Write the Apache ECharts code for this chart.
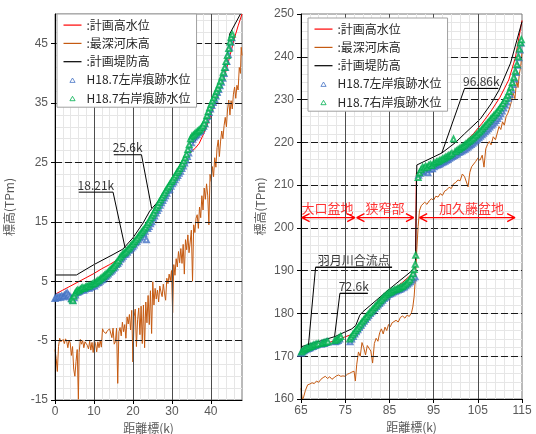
<!DOCTYPE html>
<html><head><meta charset="utf-8">
<script src="https://cdn.jsdelivr.net/npm/echarts@6/dist/echarts.min.js"></script>
<style>html,body{margin:0;padding:0;background:#fff}#c{width:536px;height:434px}</style>
</head><body><div id="c"></div>
<script>
// ---------- names ----------
const seriesNames = [':計画高水位', ':最深河床高', ':計画堤防高', 'H18.7左岸痕跡水位', 'H18.7右岸痕跡水位'];
const xAxisTitle = '距離標(k)';
const yAxisTitle = '標高(TPm)';

// ---------- left chart (0 - 48 k) ----------
const leftHWL = [[0,2.8],[2,3.5],[4,4.2],[6,4.9],[8,5.6],[10,6.3],[12,7.1],[14,7.8],[16,8.6],[18,9.7],[20,10.9],[22,12.6],[24,14.6],[26,16.6],[28,18.7],[30,20.8],[32,23.0],[33.7,25.2],[34.5,26.5],[35.3,27.0],[36,27.4],[37,28.2],[38,29.6],[39,31.2],[40,33.0],[41,34.8],[42,36.5],[43,38.5],[44,40.7],[45,43.2],[46,45.8],[47,48.0],[48,50]];
const leftLevee = [[0,6.05],[5.5,6.05],[10,7.8],[14.9,9.5],[17.4,10.4],[20,12.3],[22.6,14.8],[24.3,16.8],[26.8,18.7],[27.7,19.8],[30,22.2],[32.4,24.8],[33.7,26.2],[34.5,27.7],[35.4,28.3],[36,28.6],[37,29.8],[38,31.2],[39,32.7],[40,34.3],[41,36.0],[42,37.8],[43,39.8],[44,42.3],[44.6,44.6],[44.8,46.6],[47.6,50]];
const leftBed = [[0,-6.5],[0.3,-8.0],[0.6,-10.2],[0.9,-6],[1.2,-4.6],[1.5,-5.2],[1.8,-5.5],[2.1,-4.8],[2.4,-5.5],[2.7,-4.7],[3.0,-5.1],[3.3,-6.2],[3.6,-4.9],[3.9,-5.4],[4.2,-7.5],[4.5,-6.0],[4.8,-9.8],[5.1,-11],[5.4,-8.5],[5.7,-6.5],[6.0,-14.9],[6.2,-7.0],[6.5,-4.8],[6.8,-5.6],[7.1,-5.0],[7.4,-6.2],[7.7,-5.2],[8.0,-4.9],[8.3,-5.8],[8.6,-6.4],[8.9,-5.1],[9.2,-6.6],[9.5,-5.3],[9.8,-7.0],[10.1,-5.0],[10.4,-5.5],[10.7,-6.9],[11.0,-5.2],[11.3,-6.2],[11.6,-5.0],[11.9,-6.1],[12.2,-3.0],[12.5,-3.5],[12.8,-3.2],[13.1,-3.8],[13.4,-3.4],[13.7,-3.6],[14.0,-3.0],[14.3,-3.3],[14.6,-4.5],[14.9,-2.9],[15.2,-5.6],[15.5,-5.2],[15.8,-2.9],[16.1,-12.2],[16.4,-3.5],[16.7,-2.8],[17.0,-4.2],[17.3,-1.9],[17.6,-3.5],[17.9,-2.3],[18.2,-4.6],[18.5,-1.0],[18.8,-2.2],[19.1,-0.6],[19.4,-3.2],[19.7,0.1],[20.0,-8.6],[20.3,-1.0],[20.6,0.3],[20.9,-6.0],[21.2,-1.5],[21.5,0.5],[21.8,-4.0],[22.1,0.8],[22.4,-5.5],[22.7,1.0],[23.0,-6.2],[23.3,1.5],[23.6,-2.0],[23.9,2.6],[24.2,-2.3],[24.5,3.4],[24.8,-3.8],[25.1,4.9],[25.4,1.0],[25.7,3.8],[26.0,2.0],[26.3,3.5],[26.6,1.5],[26.9,4.2],[27.2,3.2],[27.5,2.4],[27.8,4.5],[28.1,3.0],[28.4,1.8],[28.7,5.5],[29.0,4.6],[29.3,6.2],[29.6,5.1],[29.9,6.8],[30.2,-0.3],[30.5,7.8],[30.8,6.0],[31.1,8.8],[31.4,7.4],[31.7,10.0],[32.0,8.1],[32.3,10.5],[32.6,8.0],[32.9,11.2],[33.2,6.2],[33.5,12.0],[33.8,10.3],[34.1,12.8],[34.4,9.8],[34.7,11.6],[35.0,13.6],[35.3,5.0],[35.6,14.5],[35.9,13.2],[36.2,15.6],[36.5,16.2],[36.8,13.9],[37.1,17.5],[37.4,15.7],[37.7,19.4],[38.0,17.0],[38.3,20.7],[38.6,18.8],[38.9,21.4],[39.2,19.5],[39.5,14.5],[39.8,23.0],[40.1,21.8],[40.4,24.3],[40.7,22.6],[41.0,25.8],[41.3,24.2],[41.6,27.5],[41.9,28.8],[42.2,26.0],[42.5,28.6],[42.8,30.3],[43.1,29.0],[43.4,31.2],[43.7,32.6],[44.0,31.0],[44.3,34.0],[44.6,35.5],[44.9,33.0],[45.2,35.4],[45.5,34.0],[45.8,36.5],[46.1,37.7],[46.4,35.8],[46.7,38.0],[47.0,37.2],[47.3,41.0],[47.6,40.0],[47.8,44.4],[48,43]];
const leftLeftBank = [[0,2.1],[0.35,2.3],[0.7,2.2],[1.05,2.4],[1.4,2.3],[1.75,2.5],[2.1,2.4],[2.45,2.6],[2.8,2.9],[3.15,3.0],[3.5,2.7],[3.85,2.4],[4.2,2.1],[4.55,1.8],[4.9,2.2],[5.25,2.7],[5.6,3.1],[5.95,3.2],[6.3,3.3],[6.65,3.5],[7.0,3.6],[7.35,3.5],[7.7,3.7],[8.05,3.8],[8.4,3.9],[8.75,3.8],[9.1,4.0],[9.45,4.1],[9.8,4.3],[10.15,4.2],[10.5,4.5],[10.85,4.7],[11.2,4.8],[11.55,5.0],[11.9,5.2],[12.25,5.3],[12.6,5.6],[12.95,5.8],[13.3,6.0],[13.65,6.2],[14.0,6.5],[14.35,6.7],[14.7,6.9],[15.05,7.2],[15.4,7.4],[15.75,7.8],[16.1,8.0],[16.45,8.3],[16.8,8.7],[17.15,8.9],[17.5,9.2],[17.85,9.5],[18.2,9.6],[18.55,9.9],[18.9,10.2],[19.25,10.3],[19.6,10.6],[19.95,10.8],[20.3,11.1],[20.65,11.5],[21.0,11.7],[21.35,12.0],[21.7,12.3],[22.05,12.5],[22.4,12.9],[22.75,13.1],[23.1,13.4],[23.45,12.0],[23.8,13.9],[24.15,14.2],[24.5,14.7],[24.85,15.0],[25.2,15.6],[25.55,16.0],[25.9,16.5],[26.25,16.9],[26.6,17.3],[26.95,17.8],[27.3,18.2],[27.65,18.6],[28.0,19.0],[28.35,19.4],[28.7,19.8],[29.05,20.3],[29.4,20.5],[29.75,21.0],[30.1,21.4],[30.45,21.7],[30.8,22.1],[31.15,22.5],[31.5,22.8],[31.85,23.2],[32.2,23.5],[32.55,24.0],[32.9,24.4],[33.25,24.9],[33.6,25.4],[33.95,26.0],[34.3,26.6],[34.65,27.4],[35.0,28.3],[35.35,28.9],[35.7,29.3],[36.05,29.5],[36.4,29.7],[36.75,30.0],[37.1,30.2],[37.45,30.4],[37.8,30.8],[38.15,31.1],[38.5,31.5],[38.85,32.2],[39.2,32.8],[39.55,33.4],[39.9,34.0],[40.25,34.6],[40.6,35.1],[40.95,35.6],[41.3,36.2],[41.65,36.8],[42.0,37.3],[42.35,37.9],[42.7,38.5],[43.05,39.2],[43.4,40.0],[43.75,41.0],[44.1,42.0],[44.45,43.2],[44.8,44.3],[45.1,45.3],[45.4,46.0]];
const leftRightBank = [[4.3,2.0],[4.6,1.7],[4.9,2.5],[5.2,3.0],[5.5,3.3],[5.8,3.5],[6.1,3.4],[6.45,3.6],[6.8,3.8],[7.15,3.9],[7.5,3.8],[7.85,4.0],[8.2,4.1],[8.55,4.2],[8.9,4.2],[9.25,4.4],[9.6,4.5],[9.95,4.6],[10.3,4.7],[10.65,4.9],[11.0,5.1],[11.35,5.2],[11.7,5.4],[12.05,5.6],[12.4,5.8],[12.75,6.0],[13.1,6.2],[13.45,6.4],[13.8,6.6],[14.15,6.9],[14.5,7.1],[14.85,7.3],[15.2,7.6],[15.55,7.9],[15.9,8.2],[16.25,8.5],[16.6,8.9],[16.95,9.2],[17.3,9.5],[17.65,9.7],[18.0,9.9],[18.35,10.1],[18.7,10.4],[19.05,10.6],[19.4,10.9],[19.75,11.2],[20.1,11.4],[20.45,11.7],[20.8,12.0],[21.15,12.3],[21.5,12.6],[21.85,12.9],[22.2,13.2],[22.55,13.5],[22.9,13.8],[23.25,14.1],[23.6,14.5],[23.95,14.9],[24.3,15.3],[24.65,15.7],[25.0,16.1],[25.35,16.5],[25.7,17.0],[26.05,17.4],[26.4,17.8],[26.75,18.3],[27.1,18.7],[27.45,19.1],[27.8,19.5],[28.15,19.9],[28.5,20.3],[28.85,20.7],[29.2,21.0],[29.55,21.4],[29.9,21.8],[30.25,22.1],[30.6,22.5],[30.95,22.9],[31.3,23.3],[31.65,23.6],[32.0,24.0],[32.35,24.4],[32.7,24.8],[33.05,25.3],[33.4,25.8],[33.75,26.4],[34.1,27.2],[34.45,28.0],[34.8,29.0],[35.15,29.4],[35.5,29.6],[35.85,29.8],[36.2,30.0],[36.55,30.2],[36.9,30.4],[37.25,30.6],[37.6,30.9],[37.95,31.2],[38.3,31.6],[38.65,32.2],[39.0,32.9],[39.35,33.6],[39.7,34.2],[40.05,34.8],[40.4,35.4],[40.75,35.9],[41.1,36.4],[41.45,37.0],[41.8,37.5],[42.15,38.1],[42.5,38.7],[42.85,39.4],[43.2,40.2],[43.55,41.0],[43.9,42.0],[44.25,43.0],[44.6,44.2],[44.9,45.3],[45.2,46.1],[45.5,46.6]];

// ---------- right chart (65 - 115 k) ----------
const rightHWL = [[65,171.2],[70,172.7],[74.9,174.5],[76.5,175.1],[77.8,176.8],[79,178.6],[82,181.8],[85,184.8],[88,187.3],[90.3,189.4],[90.9,190.8],[91.1,212.8],[93,213.8],[96,215.3],[98,216.6],[100,218.2],[102,219.8],[104,222.0],[106,224.5],[108,227.3],[110,230.5],[112,234.6],[113.5,239.8],[115,248.5]];
const rightLevee = [[65,172.2],[72.7,174.6],[76.5,176.4],[77.4,177.2],[78.3,179.6],[79,180.4],[85,185.7],[90,189.9],[90.9,191.0],[91.2,214.7],[96.86,217.5],[100,220.0],[102,222.0],[105.6,225.5],[108,229.0],[109.8,232.2],[112.4,238.5],[115,248.2]];
const rightBed = [[65,162.5],[65.3,159.8],[65.6,160.5],[66,162],[66.5,163.3],[67,163.5],[67.5,163.8],[68,163.6],[68.5,164.2],[69,163.9],[69.5,164.6],[70,165],[70.5,165.3],[71,164.8],[71.5,165.2],[72,164.6],[72.5,165],[73,165.4],[73.5,165.6],[74,165.3],[74.5,165.4],[75,165.3],[75.5,165.8],[76,166],[76.5,166.3],[77,166.5],[77.3,164.2],[77.6,168],[78,171],[78.4,170],[78.8,173.2],[79.2,172],[79.6,170.3],[80,172.5],[80.4,172.8],[80.8,171.2],[81.2,168.4],[81.6,173],[82,174.2],[82.4,173.5],[82.8,175.5],[83.2,176.4],[83.6,175.2],[84,176.8],[84.4,176],[84.8,177.4],[85.2,176.9],[85.6,177.8],[86,177.5],[86.5,178.4],[87,178],[87.5,179.1],[88,179.4],[88.5,178.9],[89,179.6],[89.5,179.3],[90,180.2],[90.3,181.5],[90.6,184],[90.9,188.6],[91.2,195],[91.5,200.3],[91.8,204],[92.2,205.2],[92.6,204.8],[93,206],[93.5,205.5],[94,206.3],[94.5,206.8],[95,206.5],[95.5,207.4],[96,207.2],[96.5,208],[97,207.6],[97.5,208.6],[98,208.9],[98.5,209.5],[99,209.2],[99.5,210.3],[100,210.6],[100.5,211.2],[101,211],[101.5,212.6],[102,212],[102.4,212.3],[102.8,209.6],[103.2,213],[103.6,214.3],[104,214],[104.5,215.5],[105,216.3],[105.5,215.8],[106,217],[106.4,214.2],[106.8,218.5],[107.2,219.5],[107.6,220.2],[108,219.4],[108.5,221.3],[109,220.6],[109.4,221],[109.8,223.7],[110.2,223],[110.6,224.8],[111,224],[111.4,226],[111.8,226.8],[112.2,228],[112.6,229.5],[113,231.5],[113.4,230.2],[113.8,234.6],[114.1,232.8],[114.4,236],[114.7,237.7],[115,241]];
const rightLeftBank = [[65.0,170.7],[65.35,171.0],[65.7,171.3],[66.05,171.5],[66.4,171.7],[66.75,171.8],[67.1,172.0],[67.45,172.2],[67.8,172.3],[68.15,172.5],[68.5,172.6],[69.6,172.8],[69.95,173.0],[70.3,173.0],[70.65,173.2],[71.0,173.3],[72.7,173.4],[73.05,173.5],[73.4,173.7],[73.75,174.0],[76.1,173.4],[76.45,174.0],[76.8,174.6],[77.15,175.2],[77.5,175.7],[77.85,176.2],[78.2,176.7],[78.55,177.2],[78.9,177.7],[79.25,178.2],[79.6,178.6],[79.95,179.1],[80.3,179.5],[80.65,180.0],[81.0,180.4],[81.35,180.8],[81.7,181.2],[82.05,181.6],[82.4,182.0],[82.75,182.3],[83.1,182.7],[83.45,183.1],[83.8,183.5],[84.15,183.8],[84.5,184.1],[84.85,184.4],[85.2,184.6],[85.55,184.8],[85.9,185.0],[86.25,185.2],[86.6,185.3],[86.95,185.5],[87.3,185.6],[87.65,185.8],[88.0,186.0],[88.35,186.2],[88.7,186.5],[89.05,186.8],[89.4,187.1],[89.75,187.4],[90.1,187.8],[90.45,188.3],[90.8,188.6],[91.6,212.3],[91.95,212.8],[92.3,213.4],[92.65,213.1],[93.0,213.6],[93.35,213.3],[93.7,212.9],[94.05,213.7],[94.4,214.0],[94.75,213.8],[95.1,214.3],[95.45,214.5],[95.8,214.7],[96.15,214.8],[96.5,215.0],[96.85,215.2],[97.2,215.4],[97.55,215.6],[97.9,215.8],[98.25,216.0],[98.6,216.3],[98.95,216.5],[99.3,216.7],[99.65,216.9],[100.0,217.1],[100.35,217.3],[100.7,217.6],[101.05,217.8],[101.4,218.0],[101.75,218.2],[102.1,218.4],[102.45,218.7],[102.8,218.9],[103.15,219.2],[103.5,219.5],[103.85,219.8],[104.2,220.1],[104.55,220.4],[104.9,220.7],[105.25,221.1],[105.6,221.4],[105.95,221.8],[106.3,222.1],[106.65,222.5],[107.0,222.8],[107.35,223.2],[107.7,223.6],[108.05,224.0],[108.4,224.3],[108.75,224.7],[109.1,225.1],[109.45,225.6],[109.8,226.1],[110.15,226.7],[110.5,227.3],[110.85,228.0],[111.2,228.7],[111.55,229.4],[111.9,230.3],[112.25,231.2],[112.6,232.3],[112.95,233.5],[113.3,234.8],[113.65,236.3],[114.0,238.0],[114.3,239.8],[114.55,241.6],[114.8,243.2]];
const rightRightBank = [[65.1,171.0],[65.45,171.3],[65.8,171.6],[66.15,171.8],[66.5,172.0],[66.85,172.1],[67.2,172.3],[67.55,172.4],[67.9,172.6],[68.25,172.7],[68.6,172.8],[68.95,172.9],[69.7,173.0],[70.05,173.1],[70.4,173.2],[70.75,173.3],[71.1,173.4],[72.6,173.6],[72.95,173.8],[73.3,174.0],[73.65,174.3],[74.0,174.6],[76.0,174.0],[76.35,174.5],[76.7,175.0],[77.05,175.5],[77.4,176.0],[77.75,176.5],[78.1,177.0],[78.45,177.5],[78.8,178.0],[79.15,178.4],[79.5,178.9],[79.85,179.3],[80.2,179.8],[80.55,180.2],[80.9,180.6],[81.25,181.0],[81.6,181.4],[81.95,181.8],[82.3,182.2],[82.65,182.6],[83.0,183.0],[83.35,183.4],[83.7,183.8],[84.05,184.1],[84.4,184.4],[84.75,184.7],[85.1,184.9],[85.45,185.1],[85.8,185.3],[86.15,185.5],[86.5,185.6],[86.85,185.8],[87.2,185.9],[87.55,186.1],[87.9,186.3],[88.25,186.5],[88.6,186.8],[88.95,187.1],[89.3,187.5],[89.65,187.9],[90.0,188.5],[90.35,189.3],[90.6,190.3],[90.85,191.5],[90.95,193.6],[91.5,211.8],[91.8,212.9],[92.15,213.6],[92.5,214.2],[92.85,214.0],[93.2,214.4],[93.55,214.2],[93.9,214.6],[94.25,214.8],[94.6,214.6],[94.95,215.0],[95.3,215.2],[95.65,215.4],[96.0,215.5],[96.35,215.7],[96.7,215.9],[97.05,216.1],[97.4,216.3],[97.75,216.5],[98.1,216.7],[98.45,216.9],[98.8,217.1],[99.15,217.4],[99.5,220.8],[99.85,217.8],[100.2,218.0],[100.55,218.3],[100.9,218.5],[101.25,218.8],[101.6,219.0],[101.95,219.3],[102.3,219.6],[102.65,219.9],[103.0,220.2],[103.35,220.5],[103.7,220.8],[104.05,221.1],[104.4,221.5],[104.75,221.8],[105.1,222.2],[105.45,222.5],[105.8,222.9],[106.15,223.3],[106.5,223.7],[106.85,224.1],[107.2,224.5],[107.55,224.9],[107.9,225.4],[108.25,225.8],[108.6,226.2],[108.95,226.6],[109.3,227.0],[109.65,227.5],[110.0,228.0],[110.35,228.5],[110.7,229.1],[111.05,229.7],[111.4,230.3],[111.75,231.0],[112.1,231.9],[112.45,232.9],[112.8,234.0],[113.15,235.2],[113.5,236.6],[113.85,238.2],[114.15,240.0],[114.4,241.8],[114.65,243.3],[114.85,244.0]];

// ---------- annotations (data coordinates) ----------
const leftNotes = [
  {text: '18.21k', line: [[6.1,20.0],[14.9,20.0],[18.0,10.6]]},
  {text: '25.6k',  line: [[15.1,26.3],[22.2,26.3],[24.8,17.3]]}
];
const rightNotes = [
  {text: '羽月川合流点', line: [[68.3,190.8],[85.6,190.8],[68.3,190.8],[66.7,172.7]]},
  {text: '72.6k',  line: [[73.8,184.7],[80.1,184.7],[73.8,184.7],[72.6,174.6]]},
  {text: '96.86k', line: [[102.0,232.6],[109.6,232.6],[102.0,232.6],[96.86,217.5]]}
];
const sectionNames = ['大口盆地', '狭窄部', '加久藤盆地'];
const sectionFrom  = [65.2, 77.6, 91.8];
const sectionTo    = [77.2, 90.5, 113.4];
const sectionTextX = [71.0, 84.0, 103.6];
const sectionLevel = 202.4;

// ---------- styling ----------
const CJK = "'Noto Sans CJK JP','Noto Sans',sans-serif";
const NUM = "'Liberation Sans','Noto Sans CJK JP',sans-serif";
const colHWL = '#ff0000', colBed = '#c55a11', colLevee = '#000000', colL = '#4472c4', colR = '#00b050';
const iconLine = 'path://M0,0L0,0M0,3L18,3L18,4.2L0,4.2ZM18,7L18,7';
const iconTri  = 'path://M0,0L0,0M9,1.6L11.6,6L6.4,6ZM18,7L18,7';

function majorX(grid, min, max, showMax) {
  return {gridIndex: grid, type: 'value', min, max, interval: 10, position: 'bottom', z: 3,
    name: xAxisTitle, nameLocation: 'middle', nameGap: 21,
    nameTextStyle: {fontFamily: CJK, fontSize: 12, color: '#595959'},
    axisLine: {show: true, onZero: false, lineStyle: {color: '#000', width: 1}},
    axisTick: {show: true, inside: false, length: 4, lineStyle: {color: '#000'}},
    axisLabel: {fontFamily: NUM, fontSize: 12, color: '#595959', margin: 6, showMaxLabel: showMax},
    splitLine: {show: true, showMinLine: false, showMaxLine: false, lineStyle: {color: '#4d4d4d', width: 1}}
  };
}
function minorX(grid, min, max) {
  return {gridIndex: grid, type: 'value', min, max, interval: 2, position: 'top', z: 1,
    axisLine: {show: false}, axisTick: {show: false}, axisLabel: {show: false},
    splitLine: {show: true, showMinLine: false, showMaxLine: false, lineStyle: {color: '#e6e6e6', width: 1}}
  };
}
function majorY(grid, min, max, showMax, gap) {
  return {gridIndex: grid, type: 'value', min, max, interval: 10, position: 'left', z: 3,
    name: yAxisTitle, nameLocation: 'middle', nameGap: gap, nameRotate: 90,
    nameTextStyle: {fontFamily: CJK, fontSize: 12, color: '#595959'},
    axisLine: {show: true, onZero: false, lineStyle: {color: '#000', width: 1}},
    axisTick: {show: true, inside: false, length: 4, lineStyle: {color: '#000'}},
    axisLabel: {fontFamily: NUM, fontSize: 12, color: '#595959', margin: 7, showMaxLabel: showMax},
    splitLine: {show: true, showMinLine: false, showMaxLine: false, lineStyle: {color: '#1a1a1a', width: 1, type: [7, 3]}}
  };
}
function minorY(grid, min, max) {
  return {gridIndex: grid, type: 'value', min, max, interval: 2, position: 'right', z: 1,
    axisLine: {show: false}, axisTick: {show: false}, axisLabel: {show: false},
    splitLine: {show: true, showMinLine: false, showMaxLine: false, lineStyle: {color: '#e6e6e6', width: 1}}
  };
}
function legendAt(left, top) {
  const cols = [colHWL, colBed, colLevee, colL, colR];
  return {left, top, orient: 'vertical', selectedMode: false,
    data: seriesNames.map((n, i) => i < 3
      ? {name: n, icon: iconLine, itemStyle: {color: cols[i], borderWidth: 0}}
      : {name: n, icon: iconTri, itemStyle: {color: '#fff', borderColor: cols[i], borderWidth: 1}}),
    padding: [4, 6, 2, 6], itemGap: 4.3, itemWidth: 18, itemHeight: 7,
    backgroundColor: '#fff', borderColor: '#a0a0a0', borderWidth: 1, borderRadius: 0, z: 10,
    textStyle: {fontFamily: CJK, fontSize: 12, color: '#262626', lineHeight: 14}
  };
}
function dataSeries(xi, yi, hwl, bed, levee, lb, rb) {
  const line = (name, data, color) => ({name, type: 'line', xAxisIndex: xi, yAxisIndex: yi, data,
    symbol: 'none', showSymbol: false, lineStyle: {color, width: 1}, itemStyle: {color}, z: 2, animation: false});
  const pts = (name, data, color) => ({name, type: 'scatter', xAxisIndex: xi, yAxisIndex: yi, data,
    symbol: 'emptyTriangle', symbolSize: 5, itemStyle: {color, borderColor: color, borderWidth: 1}, z: 3, animation: false});
  return [
    line(seriesNames[1], bed, colBed),
    line(seriesNames[0], hwl, colHWL),
    line(seriesNames[2], levee, colLevee),
    pts(seriesNames[3], lb, colL),
    pts(seriesNames[4], rb, colR)
  ];
}
function noteSeries(xi, yi, notes) {
  const out = [];
  notes.forEach(n => {
    out.push({type: 'line', xAxisIndex: xi, yAxisIndex: yi, data: n.line, symbol: 'none',
      lineStyle: {color: '#000', width: 1}, z: 5, silent: true, animation: false});
    const a = n.line[0], b = n.line[1];
    out.push({type: 'scatter', xAxisIndex: xi, yAxisIndex: yi, symbolSize: 0, silent: true, z: 6, animation: false,
      data: [[(a[0] + b[0]) / 2, a[1]]],
      label: {show: true, position: 'top', distance: 1, formatter: n.text,
        fontFamily: CJK, fontSize: 12, color: '#000'}});
  });
  return out;
}
function sectionSeries(xi, yi) {
  const out = [];
  const hx = 1.75, hy = 0.95, y = sectionLevel;
  sectionNames.forEach((name, i) => {
    const a = sectionFrom[i], b = sectionTo[i];
    out.push({type: 'line', xAxisIndex: xi, yAxisIndex: yi, symbol: 'none', silent: true, z: 5, animation: false,
      lineStyle: {color: '#ff0000', width: 1.3},
      data: [[a + hx, y + hy], [a, y], [a + hx, y - hy], [a, y], [b, y], [b - hx, y + hy], [b, y], [b - hx, y - hy]]});
    out.push({type: 'scatter', xAxisIndex: xi, yAxisIndex: yi, symbolSize: 0, silent: true, z: 6, animation: false,
      data: [[sectionTextX[i], y]],
      label: {show: true, position: 'top', distance: 3, formatter: name,
        fontFamily: CJK, fontSize: 13, color: '#ff0000'}});
  });
  return out;
}

const chart = echarts.init(document.getElementById('c'), null, {renderer: 'canvas'});
chart.setOption({
  animation: false,
  backgroundColor: '#fff',
  grid: [
    {left: 55, top: 14, width: 187, height: 386, containLabel: false, outerBoundsMode: 'none', show: true, borderColor: '#777', borderWidth: 1, backgroundColor: '#fff'},
    {left: 301, top: 14, width: 221, height: 385, containLabel: false, outerBoundsMode: 'none', show: true, borderColor: '#777', borderWidth: 1, backgroundColor: '#fff'}
  ],
  legend: [legendAt(57, 14), legendAt(308, 18)],
  xAxis: [majorX(0, 0, 48, false), minorX(0, 0, 48), majorX(1, 65, 115, true), minorX(1, 65, 115)],
  yAxis: [majorY(0, -15, 50, false, 40), minorY(0, -15, 50), majorY(1, 160, 250, true, 35), minorY(1, 160, 250)],
  series: [].concat(
    dataSeries(0, 0, leftHWL, leftBed, leftLevee, leftLeftBank, leftRightBank),
    dataSeries(2, 2, rightHWL, rightBed, rightLevee, rightLeftBank, rightRightBank),
    noteSeries(0, 0, leftNotes),
    noteSeries(2, 2, rightNotes),
    sectionSeries(2, 2)
  )
});
</script></body></html>
